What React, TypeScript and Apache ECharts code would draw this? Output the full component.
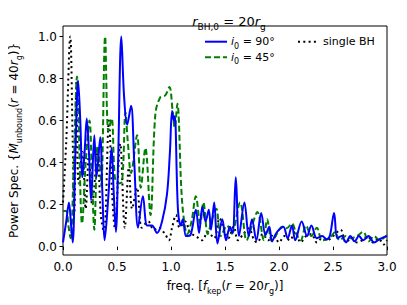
import React, { useEffect, useRef } from "react";
import * as echarts from "echarts";

const freqBlue = [0.00,0.03,0.055,0.075,0.09,0.115,0.14,0.16,0.18,0.20,0.22,0.24,0.26,0.29,0.31,0.345,0.365,0.385,0.42,0.45,0.47,0.49,0.51,0.54,0.565,0.594,0.63,0.66,0.695,0.74,0.78,0.824,0.87,0.917,0.963,0.99,1.01,1.025,1.035,1.064,1.09,1.11,1.14,1.18,1.23,1.26,1.29,1.32,1.35,1.37,1.40,1.43,1.475,1.51,1.545,1.57,1.60,1.63,1.68,1.72,1.75,1.79,1.835,1.875,1.91,1.935,1.97,2.00,2.04,2.08,2.12,2.15,2.21,2.26,2.30,2.35,2.40,2.44,2.47,2.51,2.54,2.58,2.62,2.66,2.70,2.74,2.78,2.83,2.88,2.93,2.97,3.00];
const powBlue = [0.02,0.12,0.21,0.10,0.02,0.45,0.79,0.60,0.33,0.45,0.61,0.45,0.22,0.53,0.33,0.52,0.25,0.03,0.24,0.47,0.25,0.07,0.40,1.00,0.72,0.58,0.67,0.40,0.09,0.24,0.10,0.10,0.065,0.12,0.25,0.45,0.645,0.60,0.62,0.18,0.10,0.13,0.05,0.055,0.175,0.065,0.19,0.12,0.175,0.08,0.21,0.015,0.13,0.03,0.095,0.065,0.33,0.05,0.21,0.05,0.13,0.03,0.16,0.055,0.095,0.025,0.06,0.08,0.095,0.04,0.10,0.03,0.12,0.05,0.10,0.04,0.05,0.035,0.05,0.16,0.04,0.05,0.02,0.05,0.025,0.05,0.03,0.05,0.02,0.035,0.045,0.05];

const freqGreen = [0.00,0.03,0.05,0.07,0.10,0.13,0.15,0.165,0.175,0.21,0.245,0.27,0.29,0.32,0.34,0.355,0.39,0.42,0.45,0.48,0.51,0.547,0.578,0.60,0.63,0.686,0.72,0.763,0.81,0.855,0.90,0.947,0.985,1.015,1.034,1.059,1.095,1.117,1.15,1.19,1.23,1.27,1.30,1.34,1.38,1.42,1.46,1.52,1.56,1.64,1.70,1.75,1.80,1.86,1.89,1.935,1.98,2.03,2.07,2.12,2.16,2.20,2.25,2.30,2.35,2.40,2.47,2.52,2.56,2.62,2.66,2.72,2.78,2.83,2.88,2.93,3.00];
const powGreen = [0.17,0.17,0.10,0.04,0.40,0.81,0.50,0.19,0.11,0.40,0.60,0.30,0.08,0.48,0.40,0.29,1.00,0.55,0.61,0.33,0.30,0.31,0.64,0.50,0.35,0.53,0.28,0.47,0.15,0.63,0.71,0.72,0.76,0.645,0.565,0.68,0.28,0.14,0.06,0.12,0.24,0.11,0.21,0.06,0.13,0.18,0.05,0.10,0.06,0.21,0.03,0.10,0.165,0.03,0.13,0.025,0.06,0.095,0.087,0.11,0.06,0.03,0.10,0.05,0.09,0.03,0.04,0.07,0.03,0.05,0.04,0.05,0.07,0.025,0.05,0.03,0.055];

const freqBlack = [0.00,0.03,0.067,0.09,0.105,0.125,0.145,0.18,0.21,0.24,0.27,0.32,0.35,0.38,0.425,0.455,0.48,0.53,0.572,0.61,0.64,0.686,0.73,0.79,0.84,0.886,0.948,0.98,1.01,1.046,1.08,1.13,1.18,1.23,1.29,1.34,1.40,1.45,1.49,1.53,1.58,1.62,1.67,1.72,1.77,1.80,1.85,1.90,1.95,2.00,2.05,2.10,2.15,2.20,2.25,2.30,2.35,2.40,2.45,2.50,2.57,2.62,2.67,2.72,2.77,2.82,2.87,2.92,2.97,3.00];
const powBlack = [0.21,0.50,1.00,0.50,0.16,0.79,0.30,0.45,0.18,0.44,0.20,0.45,0.15,0.065,0.60,0.25,0.09,0.49,0.09,0.375,0.18,0.28,0.09,0.12,0.08,0.09,0.057,0.03,0.09,0.15,0.09,0.12,0.065,0.05,0.03,0.07,0.04,0.135,0.08,0.04,0.095,0.03,0.06,0.087,0.03,0.02,0.06,0.03,0.06,0.02,0.05,0.03,0.07,0.02,0.05,0.06,0.02,0.04,0.03,0.05,0.08,0.02,0.04,0.02,0.03,0.05,0.02,0.04,0.01,0.03];

const xTicks = [0, 0.5, 1.0, 1.5, 2.0, 2.5, 3.0];
const yTicks = [0, 0.2, 0.4, 0.6, 0.8, 1.0];
const seriesNames = ["i0 = 90°", "i0 = 45°", "single BH"];

const FONT = "DejaVu Sans";
const BLUE = "#0000ff";
const GREEN = "#008000";
const BLACK = "#000000";
const DASH = [6, 3];
const DOT = [2, 3.3];

const zip = (a: number[], b: number[]) => a.map((v, i) => [v, b[i]]);

export default function App() {
  const ref = useRef<HTMLDivElement>(null);
  useEffect(() => {
    if (!ref.current) return;
    const chart = echarts.init(ref.current, null, { renderer: "svg" });
    const base = { fontFamily: FONT, color: "#000", fontWeight: "normal" };
    const richMath = (fs: number) => ({
      n: { fontFamily: FONT, fontSize: fs, fontWeight: "normal", color: "#000", lineHeight: fs + 6, verticalAlign: "middle" },
      it: { fontFamily: FONT, fontSize: fs, fontWeight: "normal", fontStyle: "italic", color: "#000", lineHeight: fs + 6, verticalAlign: "middle" },
      sub: { fontFamily: FONT, fontSize: Math.round(fs * 0.7), fontWeight: "normal", color: "#000", lineHeight: fs + 6, verticalAlign: "bottom" },
    });
    const legendRow = (x: number, y: number, color: string, dash: number[] | null, len: number, text: string) => [
      {
        type: "line",
        shape: { x1: x, y1: y, x2: x + len, y2: y },
        style: { stroke: color, lineWidth: 2, lineDash: dash || undefined },
        silent: true,
      },
      {
        type: "text",
        x: x + len + 4,
        y: y,
        style: { text, rich: richMath(11), fontFamily: FONT, fontSize: 11, fill: "#000", verticalAlign: "middle", align: "left" },
        silent: true,
      },
    ];
    chart.setOption({
      animation: false,
      backgroundColor: "#fff",
      title: {
        text: "{it|r}{sub|BH,0}{n| = 20}{it|r}{sub|g}",
        left: 224,
        textAlign: "center",
        top: 7,
        textStyle: { ...base, fontSize: 13, rich: richMath(13) },
      },
      grid: {
        left: 62,
        right: 20,
        top: 26,
        bottom: 50,
        show: true,
        borderColor: "#000",
        borderWidth: 1,
        backgroundColor: "transparent",
      },
      graphic: [
        ...legendRow(205, 41.7, BLUE, null, 22, "{it|i}{sub|0}{n| = 90°}"),
        ...legendRow(205, 57.3, GREEN, DASH, 22, "{it|i}{sub|0}{n| = 45°}"),
        ...legendRow(298, 41.7, BLACK, DOT, 21, "{n|single BH}"),
      ],
      xAxis: {
        type: "value",
        min: 0,
        max: 3,
        interval: 0.5,
        name: "freq. [{it|f}{sub|kep}{n|(}{it|r}{n| = 20}{it|r}{sub|g}{n|)]}",
        nameLocation: "middle",
        nameGap: 22,
        nameTextStyle: { ...base, fontSize: 12, rich: richMath(12) },
        axisLine: { show: false },
        axisTick: { show: true, length: 3.5, lineStyle: { color: "#000" }, customValues: xTicks },
        axisLabel: {
          ...base,
          fontSize: 12,
          margin: 6,
          customValues: xTicks,
          formatter: (v: number) => v.toFixed(1),
        },
        splitLine: { show: false },
      },
      yAxis: {
        type: "value",
        min: -0.04,
        max: 1.05,
        name: "Power Spec. {n|{}{it|Ṁ}{sub|unbound}{n|(}{it|r}{n| = 40}{it|r}{sub|g}{n|)}}",
        nameLocation: "middle",
        nameRotate: 90,
        nameGap: 40,
        nameTextStyle: { ...base, fontSize: 12, rich: richMath(12) },
        axisLine: { show: false },
        axisTick: { show: true, length: 3.5, lineStyle: { color: "#000" }, customValues: yTicks },
        axisLabel: {
          ...base,
          fontSize: 12,
          margin: 6,
          customValues: yTicks,
          formatter: (v: number) => v.toFixed(1),
        },
        splitLine: { show: false },
      },
      series: [
        {
          name: seriesNames[0],
          type: "line",
          data: zip(freqBlue, powBlue),
          showSymbol: false,
          symbol: "none",
          smooth: 0.35,
          lineStyle: { color: BLUE, width: 2 },
          itemStyle: { color: BLUE },
          z: 3,
        },
        {
          name: seriesNames[1],
          type: "line",
          data: zip(freqGreen, powGreen),
          showSymbol: false,
          symbol: "none",
          smooth: 0.35,
          lineStyle: { color: GREEN, width: 2, type: DASH },
          itemStyle: { color: GREEN },
          z: 2,
        },
        {
          name: seriesNames[2],
          type: "line",
          data: zip(freqBlack, powBlack),
          showSymbol: false,
          symbol: "none",
          smooth: 0.35,
          lineStyle: { color: BLACK, width: 2, type: DOT },
          itemStyle: { color: BLACK },
          z: 1,
        },
      ],
    });
    return () => chart.dispose();
  }, []);
  return <div ref={ref} style={{ width: 407, height: 305, margin: -8 }} />;
}
